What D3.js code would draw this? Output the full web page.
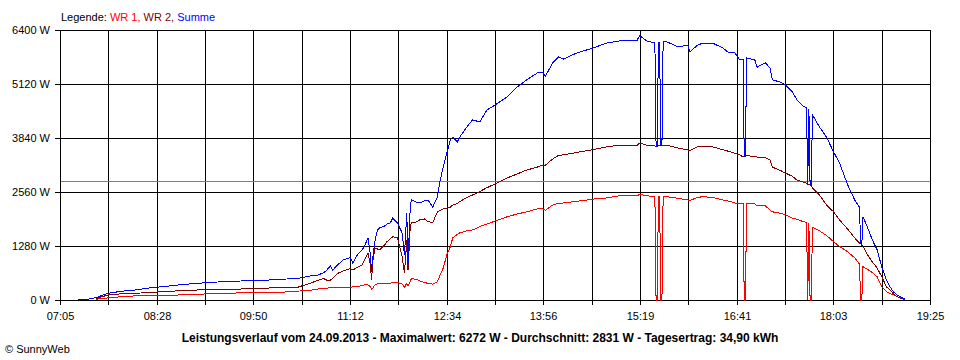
<!DOCTYPE html>
<html>
<head>
<meta charset="utf-8">
<script src="https://cdn.jsdelivr.net/npm/d3@7"></script>
<style>
  body { margin: 0; background: #fff; }
  svg { display: block; font-family: "Liberation Sans", Arial, sans-serif; }
</style>
</head>
<body>
<div id="chart"></div>
<script>
// Messzeitpunkte (HH:MM)
const times = [
  "07:20","07:29","07:36","07:46","07:58","08:10","08:22","08:34","08:47","09:04",
  "09:21","09:38","09:55","10:12","10:27","10:38","10:44","10:49","10:52","10:55",
  "10:57","11:01","11:06","11:12","11:14","11:18","11:22","11:24","11:27","11:29",
  "11:30","11:31","11:33","11:35","11:37","11:41","11:43","11:46","11:48","11:52",
  "11:56","11:58","12:00","12:01","12:03","12:04","12:08","12:11","12:15","12:18",
  "12:21","12:22","12:26","12:28","12:31","12:34","12:37","12:39","12:43","12:45",
  "12:51","12:56","13:02","13:08","13:15","13:25","13:34","13:42","13:51","13:55",
  "13:58","14:04","14:09","14:13","14:25","14:38","14:50","15:01","15:10","15:16",
  "15:18","15:24","15:31","15:32","15:33","15:34","15:35","15:36","15:37","15:38",
  "15:41","15:51","15:59","16:01","16:07","16:12","16:20","16:29","16:33","16:39",
  "16:43","16:46","16:47","16:48","16:49","16:56","16:58","17:05","17:09","17:11",
  "17:17","17:22","17:28","17:32","17:36","17:40","17:41","17:42","17:43","17:44",
  "17:45","17:51","17:57","18:03","18:08","18:15","18:21","18:25","18:26","18:27",
  "18:28","18:31","18:36","18:40","18:44","18:48","18:51","18:54","18:57","19:02",
  "19:04"
];

// Leistung in W
const wr1 = [
  null,null,20,50,80,100,100,110,120,140,
  150,170,180,180,210,230,260,280,280,290,
  300,300,300,300,310,320,340,360,360,310,
  250,280,360,380,400,400,400,400,410,410,
  380,300,400,330,450,510,490,450,420,390,
  380,370,430,570,760,1070,1260,1470,1560,1590,
  1640,1660,1740,1800,1870,1970,2040,2090,2160,2170,
  2130,2250,2290,2300,2340,2390,2420,2470,2470,2470,
  2510,2470,2450,0,0,2450,2450,0,0,2450,
  2450,2410,2370,2360,2430,2450,2430,2370,2350,2300,
  2280,2280,0,0,2280,2280,2230,2230,2130,2090,
  2060,2020,1940,1910,1870,1840,0,1830,0,0,
  1720,1640,1530,1380,1270,1140,1000,850,0,0,
  790,740,650,550,320,200,150,120,80,40,
  20
];

const wr2 = [
  null,null,40,120,150,160,180,200,220,240,
  250,260,270,300,300,400,460,510,470,470,
  520,630,690,750,710,780,830,950,1110,830,
  470,900,1230,1210,1190,1300,1380,1450,1500,1470,
  1030,640,1420,710,1780,1830,1850,1900,1920,1860,
  1840,1830,2090,2120,2160,2180,2200,2250,2290,2330,
  2430,2490,2570,2660,2750,2890,2990,3080,3150,3200,
  3200,3340,3430,3440,3500,3560,3630,3670,3670,3670,
  3720,3670,3650,3650,3650,3660,3660,3660,3660,3670,
  3670,3600,3560,3540,3630,3650,3630,3560,3530,3480,
  3440,3390,3390,3390,3430,3390,3390,3370,3320,3150,
  3080,3010,2930,2840,2810,2770,2730,2730,2730,2710,
  2660,2490,2250,2090,1900,1680,1470,1350,1330,1300,
  1280,1110,900,760,550,310,240,140,80,20,
  20
];

const summe = [
  10,20,60,160,210,240,290,320,360,400,
  430,450,460,490,510,570,590,640,710,810,
  710,830,950,1010,880,1070,1190,1280,1470,1070,
  670,1000,1420,1660,1710,1750,1800,1830,1940,1830,
  1590,1070,2060,850,2250,2370,2320,2300,2350,2370,
  2250,2200,2440,2800,3150,3480,3790,3860,3750,3860,
  4100,4270,4220,4500,4620,4810,5050,5220,5380,5400,
  5310,5620,5760,5710,5860,5970,6090,6140,6150,6160,
  6270,6140,6090,3650,3650,6100,6100,3660,3660,6120,
  6120,6000,6040,5880,6040,6090,6090,5970,5880,5860,
  5690,5690,3390,3390,5740,5690,5520,5620,5500,5220,
  5170,5100,4930,4740,4620,4550,2730,4530,2730,2710,
  4390,4100,3860,3510,3250,2730,2370,2200,1330,1300,
  1970,1780,1420,1190,780,470,310,190,120,40,
  20
];

const yTicks = [0, 1280, 2560, 3840, 5120, 6400];
const xTickLabels = ["07:05","08:28","09:50","11:12","12:34","13:56","15:19","16:41","18:03","19:25"];
const average = 2831;
const footerText = "Leistungsverlauf vom 24.09.2013 - Maximalwert: 6272 W - Durchschnitt: 2831 W - Tagesertrag: 34,90 kWh";

const series = [
  { label: "WR 1,", values: wr1, color: "#ff0000" },
  { label: "WR 2,", values: wr2, color: "#800000" },
  { label: "Summe", values: summe, color: "#0000ff" }
];

const toMinutes = t => {
  const [h, m] = t.split(":").map(Number);
  return h * 60 + m;
};

const plot = { left: 60, right: 930, top: 30, bottom: 300 };

const x = d3.scaleLinear()
  .domain([toMinutes(xTickLabels[0]), toMinutes(xTickLabels[xTickLabels.length - 1])])
  .range([plot.left, plot.right]);
const xr = x.copy().interpolate(d3.interpolateRound);

const y = d3.scaleLinear()
  .domain([0, d3.max(yTicks)])
  .range([plot.bottom, plot.top]);

const svg = d3.select("#chart").append("svg")
  .attr("width", 960)
  .attr("height", 360);

// 18 Rasterabschnitte, jeder zweite beschriftet
const [t0, t1] = x.domain();
const gridTimes = d3.range(19).map(i => t0 + i * (t1 - t0) / 18);

// senkrechte Rasterlinien
svg.append("g")
  .attr("shape-rendering", "crispEdges")
  .selectAll("line")
  .data(gridTimes)
  .join("line")
  .attr("x1", d => xr(d) + 0.5)
  .attr("x2", d => xr(d) + 0.5)
  .attr("y1", plot.top)
  .attr("y2", plot.bottom)
  .attr("stroke", "#000");

// waagerechte Rasterlinien
svg.append("g")
  .attr("shape-rendering", "crispEdges")
  .selectAll("line")
  .data(yTicks)
  .join("line")
  .attr("x1", plot.left)
  .attr("x2", plot.right + 1)
  .attr("y1", d => Math.round(y(d)) + 0.5)
  .attr("y2", d => Math.round(y(d)) + 0.5)
  .attr("stroke", "#000");

// Durchschnittslinie
svg.append("line")
  .attr("shape-rendering", "crispEdges")
  .attr("x1", plot.left + 1)
  .attr("x2", plot.right)
  .attr("y1", Math.round(y(average)) + 0.5)
  .attr("y2", Math.round(y(average)) + 0.5)
  .attr("stroke", "#808080");

// y-Achse
const yAxis = svg.append("g")
  .attr("transform", `translate(${plot.left},0)`)
  .attr("shape-rendering", "crispEdges")
  .call(d3.axisLeft(y).tickValues(yTicks).tickSize(5).tickSizeOuter(0).tickPadding(5)
    .tickFormat(d => d + " W"));
yAxis.attr("font-size", 11).attr("font-family", null);
yAxis.selectAll("text").attr("fill", "#000");

// x-Achse
const xAxis = svg.append("g")
  .attr("transform", `translate(0,${plot.bottom})`)
  .attr("shape-rendering", "crispEdges")
  .call(d3.axisBottom(xr).tickValues(gridTimes).tickSize(5).tickSizeOuter(0).tickPadding(7)
    .tickFormat((d, i) => i % 2 ? "" : xTickLabels[i / 2]));
xAxis.attr("font-size", 11).attr("font-family", null);
xAxis.selectAll("text").attr("fill", "#000");

// Kurven
const line = d3.line()
  .defined(d => d.v != null)
  .x(d => x(d.t))
  .y(d => y(d.v));

series.forEach(s => {
  const pts = times.map((t, i) => ({ t: toMinutes(t), v: s.values[i] }));
  svg.append("path")
    .datum(pts)
    .attr("fill", "none")
    .attr("stroke", s.color)
    .attr("stroke-width", 1)
    .attr("shape-rendering", "crispEdges")
    .attr("d", line);
});

// Legende
const legend = svg.append("text")
  .attr("x", 61)
  .attr("y", 20.5)
  .attr("font-size", 11);
legend.append("tspan").attr("fill", "#000").text("Legende: ");
series.forEach((s, i) => {
  legend.append("tspan")
    .attr("fill", s.color)
    .text((i ? " " : "") + s.label);
});

// Fusszeile
svg.append("text")
  .attr("x", 480)
  .attr("y", 341.5)
  .attr("text-anchor", "middle")
  .attr("font-size", 12)
  .attr("font-weight", "bold")
  .text(footerText);

svg.append("text")
  .attr("x", 5)
  .attr("y", 352.5)
  .attr("font-size", 11)
  .text("\u00a9 SunnyWeb");
</script>
</body>
</html>
